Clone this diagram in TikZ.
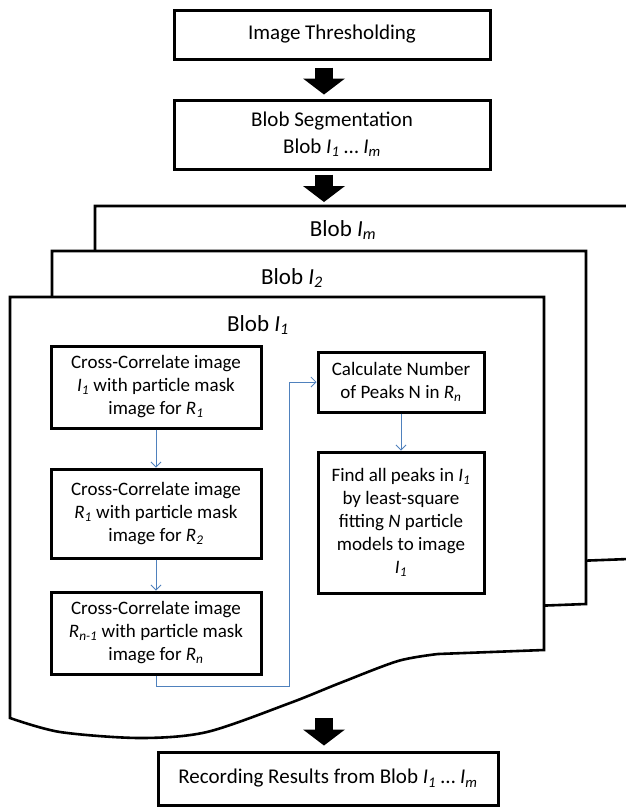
\documentclass[tikz,border=0pt]{standalone}
\usepackage{fontspec}
\setmainfont{Carlito}
\usetikzlibrary{arrows.meta,positioning}

\newcommand{\itsub}[2]{\textit{#1}\textsubscript{\textit{#2}}}

\begin{document}
\begin{tikzpicture}[
  x=1pt, y=-1pt,
  box/.style={draw, line width=3pt, align=center, minimum width=316pt, font=\fontsize{21}{27}\selectfont},
  stepbox/.style={draw, line width=3pt, align=center, inner sep=2pt, font=\fontsize{19}{23}\selectfont},
  page/.style={draw, fill=white, line width=2.6pt},
  pagelabel/.style={font=\fontsize{23}{27}\selectfont},
  flow/.style={draw=cblue, line width=0.8pt, -{Straight Barb[length=5pt,width=10pt]}},
  bigarrow/.style={line width=18pt, -{Triangle[width=42pt,length=16pt,line width=0pt]}}
]

\definecolor{cblue}{RGB}{79,129,189}

\useasboundingbox (0,0) rectangle (625,809);

% stacked blob pages, back to front
\foreach \dx/\dy in {85/-91, 42/-46, 0/0}
  \draw[page, shift={(\dx,\dy)}] (10,297) -- (544,297) -- (544,650)
    -- plot[smooth] coordinates {(438,654) (398,661) (340,683) (290,703) (207,732) (140,738) (60,732) (10,718)}
    -- cycle;

\node[pagelabel] (lblm) at (343,230) {Blob \itsub{I}{m}};
\node[pagelabel] (lbl2) at (292,278) {Blob \itsub{I}{2}};
\node[pagelabel] (lbl1) at (258,325) {Blob \itsub{I}{1}};

\node[box, minimum height=49pt] (thresh) at (332,34.5) {Image Thresholding};
\node[box, minimum height=69pt] (segment) at (332,134.5) {Blob Segmentation\\Blob \itsub{I}{1} … \itsub{I}{m}};

\node[stepbox, minimum width=210pt, minimum height=82pt] (cc1) at (156,387) {Cross-Correlate image\\\itsub{I}{1} with particle mask\\image for \itsub{R}{1}};
\node[stepbox, minimum width=210pt, minimum height=89pt, below=38pt of cc1] (cc2) {Cross-Correlate image\\\itsub{R}{1} with particle mask\\image for \itsub{R}{2}};
\node[stepbox, minimum width=210pt, minimum height=82pt, below=31pt of cc2] (ccn) {Cross-Correlate image\\\itsub{R}{n-1} with particle mask\\image for \itsub{R}{n}};

\node[stepbox, minimum width=166pt, minimum height=60pt] (peaks) at (401,382) {Calculate Number\\of Peaks N in \itsub{R}{n}};
\node[stepbox, minimum width=166pt, minimum height=141pt, below=37pt of peaks] (fit) {Find all peaks in \itsub{I}{1}\\by least-square\\fitting \textit{N} particle\\models to image\\\itsub{I}{1}};

\node[box, minimum width=340pt, minimum height=53pt] (record) at (328,778.5) {Recording Results from Blob \itsub{I}{1} … \itsub{I}{m}};

\coordinate (mtop) at (324,206);
\coordinate (blobbot) at (324,690);
\coordinate (bend) at (289,686);

\draw[flow] (cc1) -- (cc2);
\draw[flow] (cc2) -- (ccn);
\draw[flow] (ccn.south) |- (bend) |- (peaks.west);
\draw[flow] (peaks) -- (fit);

\draw[bigarrow] ([xshift=-8pt,yshift=-7pt]thresh.south) -- ([xshift=-8pt,yshift=4pt]segment.north);
\draw[bigarrow] ([xshift=-8pt,yshift=-4pt]segment.south) -- ([yshift=4pt]mtop);
\draw[bigarrow] ([yshift=-28pt]blobbot) -- ([xshift=-4pt,yshift=5pt]record.north);

\end{tikzpicture}
\end{document}
